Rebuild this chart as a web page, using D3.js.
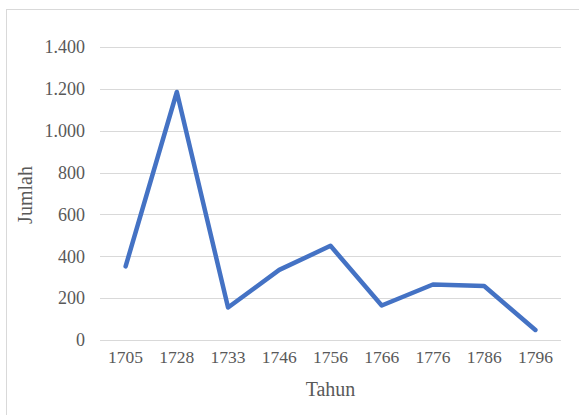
<!DOCTYPE html>
<html>
<head>
<meta charset="utf-8">
<script src="https://cdn.jsdelivr.net/npm/d3@7"></script>
<style>
  body { margin: 0; background: #fff; }
  svg { display: block; }
  text { font-family: "Liberation Serif", "DejaVu Serif", serif; fill: #595959; }
</style>
</head>
<body>
<div id="chart"></div>
<script>
// data
var years = ["1705", "1728", "1733", "1746", "1756", "1766", "1776", "1786", "1796"];
var counts = [352, 1185, 155, 335, 450, 165, 265, 258, 48];
var yTicks = [0, 200, 400, 600, 800, 1000, 1200, 1400];

var width = 579, height = 415;
var margin = {top: 47, right: 18, bottom: 75, left: 100};

var svg = d3.select("#chart")
    .append("svg")
    .attr("width", width)
    .attr("height", height);

// chart frame
svg.append("rect")
    .attr("x", 6.5).attr("y", 9.5)
    .attr("width", 600).attr("height", 450)
    .attr("fill", "none")
    .attr("stroke", "#d9d9d9")
    .attr("stroke-width", 1);

var x = d3.scaleBand()
    .domain(years)
    .range([margin.left, width - margin.right]);

var y = d3.scaleLinear()
    .domain([0, 1400])
    .range([340, margin.top]);

// gridlines
svg.append("g")
    .selectAll("line")
    .data(yTicks)
    .enter()
    .append("line")
        .attr("x1", margin.left)
        .attr("x2", width - margin.right)
        .attr("y1", d => Math.round(y(d)) + 0.5)
        .attr("y2", d => Math.round(y(d)) + 0.5)
        .attr("stroke", "#d9d9d9")
        .attr("stroke-width", 1);

// y labels
var fmt = d3.formatLocale({decimal: ",", thousands: ".", grouping: [3], currency: ["", ""]}).format(",");
svg.append("g")
    .selectAll("text")
    .data(yTicks)
    .enter()
    .append("text")
        .attr("x", 85)
        .attr("y", d => y(d))
        .attr("dy", "0.35em")
        .attr("text-anchor", "end")
        .style("font-size", "18px")
        .text(d => fmt(d));

// x labels
svg.append("g")
    .selectAll("text")
    .data(years)
    .enter()
    .append("text")
        .attr("x", d => x(d) + x.bandwidth() / 2)
        .attr("y", 363)
        .attr("text-anchor", "middle")
        .style("font-size", "17.5px")
        .text(d => d);

// axis titles
svg.append("text")
    .attr("x", (margin.left + width - margin.right) / 2)
    .attr("y", 396)
    .attr("text-anchor", "middle")
    .style("font-size", "20px")
    .text("Tahun");

svg.append("text")
    .attr("transform", "translate(32,195) rotate(-90)")
    .attr("text-anchor", "middle")
    .style("font-size", "20px")
    .text("Jumlah");

// the line
var line = d3.line()
    .x((d, i) => x(years[i]) + x.bandwidth() / 2)
    .y(d => y(d));

svg.append("path")
    .datum(counts)
    .attr("fill", "none")
    .attr("stroke", "#4472C4")
    .attr("stroke-width", 4.5)
    .attr("stroke-linejoin", "round")
    .attr("stroke-linecap", "round")
    .attr("d", line);
</script>
</body>
</html>
